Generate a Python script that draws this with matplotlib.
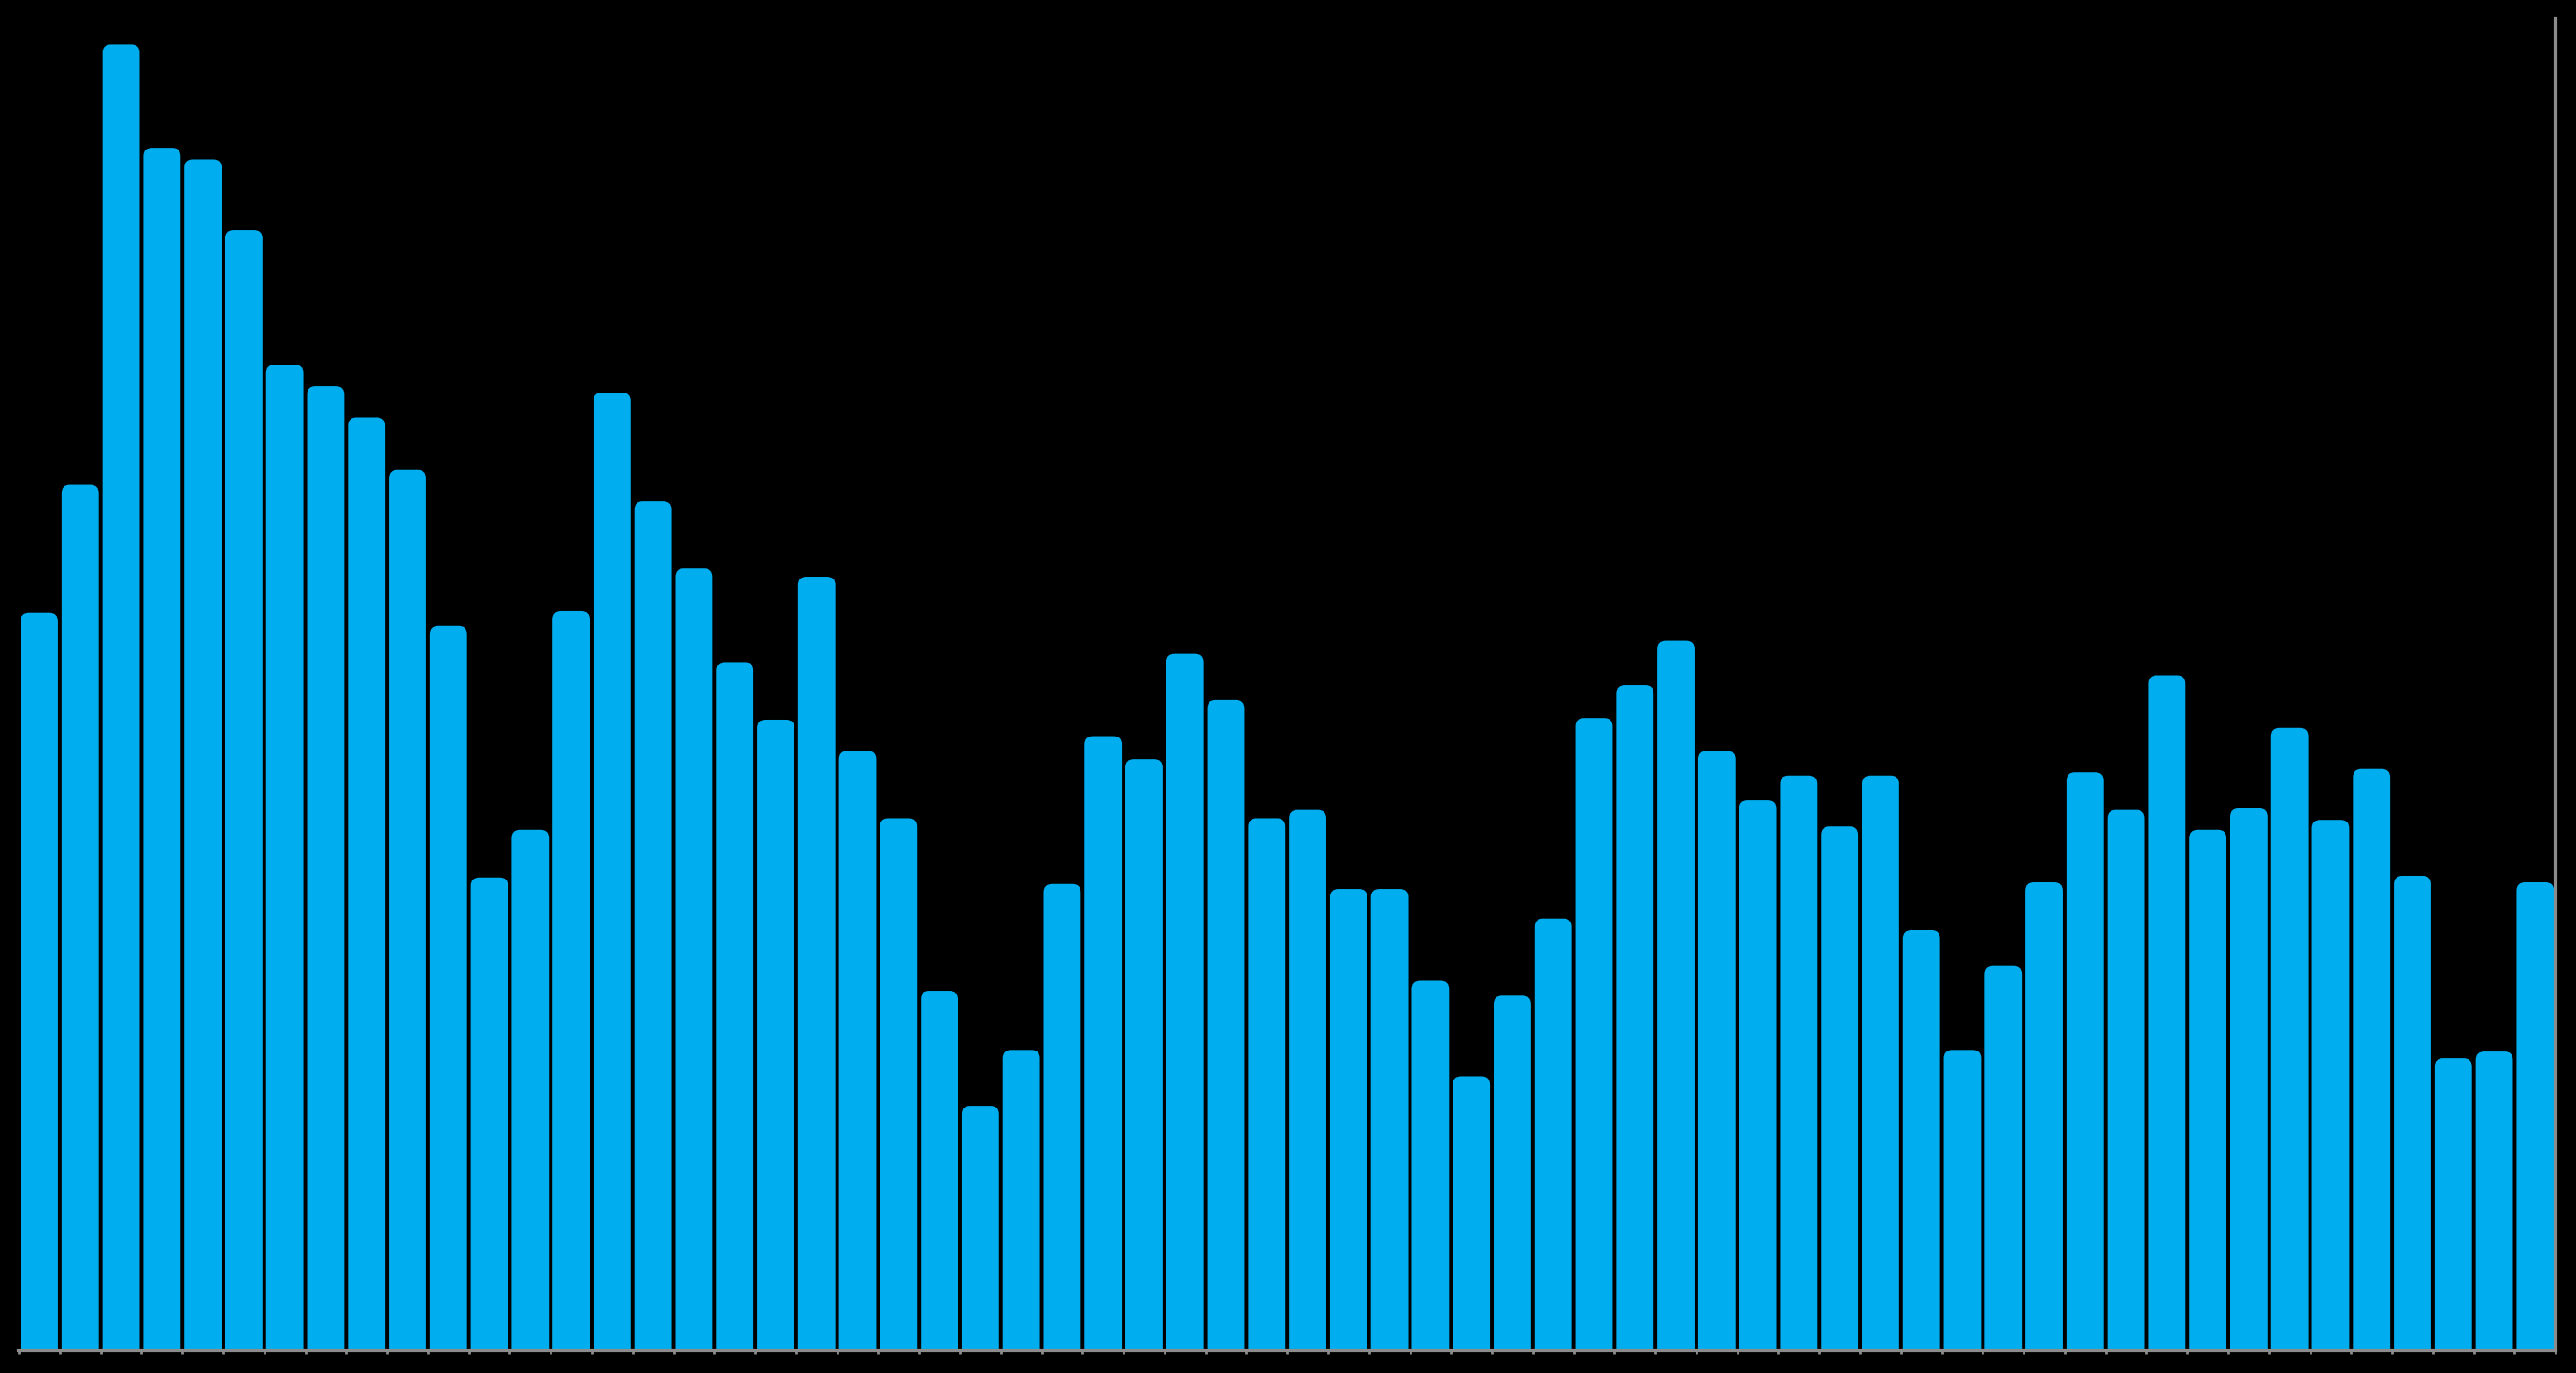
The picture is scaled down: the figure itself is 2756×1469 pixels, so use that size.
import numpy as np
import matplotlib.pyplot as plt
from matplotlib.patches import FancyBboxPatch

# bar heights (arbitrary units)
values = [449, 527, 795, 732, 725, 682, 600, 587, 568, 536,
          441, 288, 317, 450, 583, 517, 476, 419, 384, 471,
          365, 324, 219, 149, 183, 284, 374, 360, 424, 396,
          324, 329, 281, 281, 225, 167, 216, 263, 385, 405,
          432, 365, 335, 350, 319, 350, 256, 183, 234, 285,
          352, 329, 411, 317, 330, 379, 323, 354, 289, 178,
          182, 285]
x = np.arange(len(values))

bar_color = '#00aeef'
axis_color = '#8c8c8c'
bar_w = 0.91
ymax = 810.6

fig = plt.figure(figsize=(27.56, 14.69), dpi=100, facecolor='black')
ax = fig.add_axes([0.0073, 0.0163, 0.9848, 0.9701])
ax.set_facecolor('black')
ax.set_xlim(-0.5, len(values) - 0.5)
ax.set_ylim(0, ymax)

# aspect so the rounded corners stay round in pixels
bbox = ax.get_window_extent()
x_per_px = (len(values)) / bbox.width
y_per_px = ymax / bbox.height
r_px = 9
for xi, v in zip(x, values):
    p = FancyBboxPatch((xi - bar_w / 2, -20), bar_w, v + 20,
                       boxstyle='round,pad=0,rounding_size={}'.format(r_px * x_per_px),
                       mutation_aspect=y_per_px / x_per_px,
                       fc=bar_color, ec='none', clip_on=True)
    ax.add_patch(p)

for s in ['left', 'top']:
    ax.spines[s].set_visible(False)
for s in ['bottom', 'right']:
    ax.spines[s].set_color(axis_color)
    ax.spines[s].set_linewidth(3)
    ax.spines[s].set_zorder(5)

ax.set_xticks(np.arange(len(values) + 1) - 0.5)
ax.set_xticklabels([])
ax.tick_params(axis='x', colors=axis_color, length=3, width=2)
ax.set_yticks([])

fig.savefig('out.png', dpi=100, facecolor='black')
